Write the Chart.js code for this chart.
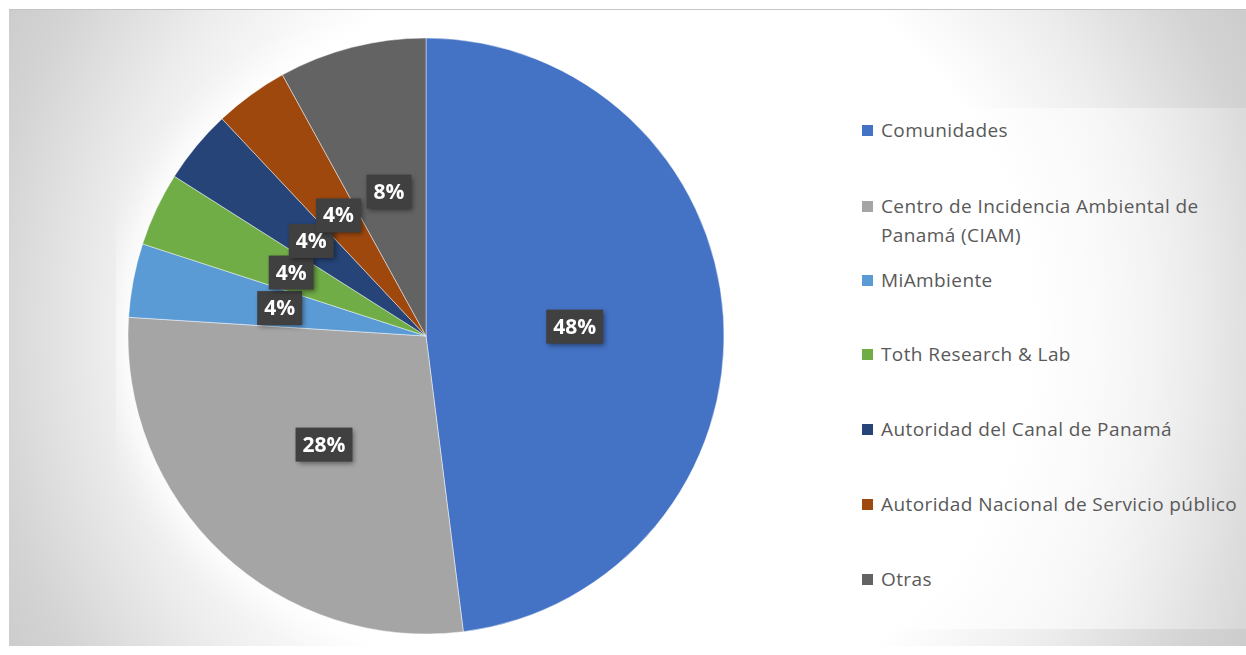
<!DOCTYPE html>
<html>
<head>
<meta charset="utf-8">
<script src="https://cdn.jsdelivr.net/npm/chart.js@4/dist/chart.umd.min.js"></script>
<style>
  html, body { margin: 0; padding: 0; width: 1246px; height: 655px; background: #ffffff; overflow: hidden; }
  #frame {
    position: absolute; left: 9px; top: 9px; width: 1237px; height: 636px;
    border-top: 1px solid #c4c4c4;
    background: radial-gradient(circle at 618px 318px, #ffffff 0px, #ffffff 400px, #ededed 520px, #d4d4d4 640px, #c9c9c9 720px);
  }
  #pieBox { position: absolute; left: 107px; top: 16px; width: 620px; height: 620px; }
  #legend {
    position: absolute; left: 831px; top: 98px; width: 406px; height: 521px;
    background: linear-gradient(90deg, rgba(255,255,255,0.75) 0%, rgba(255,255,255,0.55) 60%, rgba(255,255,255,0.2) 100%);
    font-family: "Open Sans", sans-serif; font-size: 19px; letter-spacing: 0.4px; color: #595959;
  }
  .item { position: absolute; left: 22px; line-height: 29px; white-space: nowrap; }
  .item .sw { position: absolute; left: 0; top: 9px; width: 11px; height: 11px; }
  .item .tx { display: block; margin-left: 19px; }
</style>
</head>
<body>
<div id="frame">
  <div id="pieBox"><canvas id="pie"></canvas></div>
  <div id="legend"></div>
</div>
<script>
// Parties involved and their share (percent)
const categories = [
  "Comunidades",
  "Centro de Incidencia Ambiental de Panamá (CIAM)",
  "MiAmbiente",
  "Toth Research & Lab",
  "Autoridad del Canal de Panamá",
  "Autoridad Nacional de Servicio público",
  "Otras"
];
const shares = [48, 28, 4, 4, 4, 4, 8];
const sliceColors = ["#4472C4", "#A5A5A5", "#5B9BD5", "#70AD47", "#264478", "#9E480E", "#636363"];
// Legend text lines (the CIAM entry wraps onto two lines)
const legendLines = [
  ["Comunidades"],
  ["Centro de Incidencia Ambiental de", "Panamá (CIAM)"],
  ["MiAmbiente"],
  ["Toth Research & Lab"],
  ["Autoridad del Canal de Panamá"],
  ["Autoridad Nacional de Servicio público"],
  ["Otras"]
];
const legendTops = [8, 84, 158, 232, 307, 382, 457];

// Build the legend
const legendEl = document.getElementById('legend');
categories.forEach((c, i) => {
  const d = document.createElement('div');
  d.className = 'item';
  d.style.top = legendTops[i] + 'px';
  const sw = document.createElement('span');
  sw.className = 'sw';
  sw.style.background = sliceColors[i];
  const tx = document.createElement('span');
  tx.className = 'tx';
  tx.innerHTML = legendLines[i].map(s => s.replace(/&/g, '&amp;')).join('<br>');
  d.appendChild(sw); d.appendChild(tx);
  legendEl.appendChild(d);
});

// Soft white halo behind the pie
const haloPlugin = {
  id: 'halo',
  beforeDatasetsDraw(chart) {
    const arc = chart.getDatasetMeta(0).data[0];
    if (!arc) return;
    const ctx = chart.ctx;
    ctx.save();
    ctx.shadowColor = 'rgba(255,255,255,1)';
    ctx.shadowBlur = 45;
    ctx.fillStyle = '#ffffff';
    ctx.beginPath();
    ctx.arc(arc.x, arc.y, arc.outerRadius, 0, Math.PI * 2);
    ctx.fill();
    ctx.fill();
    ctx.restore();
  }
};

// Percentage labels in dark boxes at the middle of each slice
const boxLabelPlugin = {
  id: 'boxLabels',
  afterDatasetsDraw(chart) {
    const meta = chart.getDatasetMeta(0);
    const ctx = chart.ctx;
    const data = chart.data.datasets[0].data;
    const total = data.reduce((a, b) => a + b, 0);
    ctx.save();
    ctx.font = "bold 21px 'Open Sans', sans-serif";
    ctx.textAlign = 'center';
    ctx.textBaseline = 'middle';
    meta.data.forEach((arc, i) => {
      const p = arc.tooltipPosition();
      const txt = Math.round(data[i] / total * 100) + '%';
      const w = ctx.measureText(txt).width + 14;
      const h = 34;
      ctx.save();
      ctx.shadowColor = 'rgba(0,0,0,0.45)';
      ctx.shadowBlur = 5;
      ctx.shadowOffsetX = 2;
      ctx.shadowOffsetY = 2;
      ctx.fillStyle = '#404040';
      ctx.fillRect(p.x - w / 2, p.y - h / 2, w, h);
      ctx.restore();
      ctx.fillStyle = '#ffffff';
      ctx.fillText(txt, p.x, p.y + 1);
    });
    ctx.restore();
  }
};

new Chart(document.getElementById('pie'), {
  type: 'pie',
  data: {
    labels: categories,
    datasets: [{
      data: shares,
      backgroundColor: sliceColors,
      borderColor: 'rgba(255,255,255,0.45)',
      borderWidth: 1,
      hoverOffset: 0,
      offset: 0,
      radius: 298
    }]
  },
  options: {
    responsive: true,
    maintainAspectRatio: false,
    animation: false,
    layout: { padding: 0 },
    plugins: {
      legend: { display: false },
      tooltip: { enabled: false },
      title: { display: false }
    }
  },
  plugins: [haloPlugin, boxLabelPlugin]
});
</script>
</body>
</html>
